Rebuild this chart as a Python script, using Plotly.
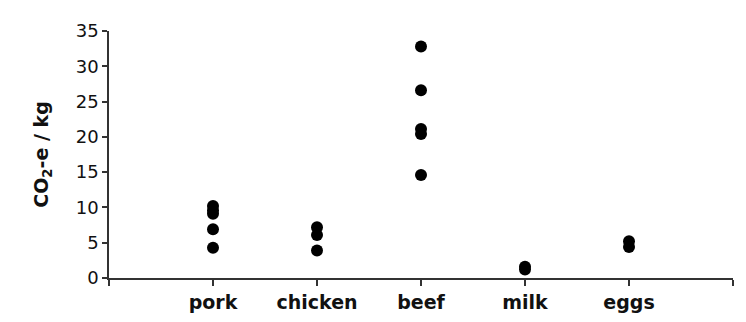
import plotly.graph_objects as go

categories = ["pork", "chicken", "beef", "milk", "eggs"]
pork = [10.2, 9.6, 9.1, 6.9, 4.3]
chicken = [7.2, 6.1, 3.9]
beef = [32.8, 26.6, 21.1, 20.4, 14.6]
milk = [1.6, 1.2]
eggs = [5.2, 4.4]
series = [pork, chicken, beef, milk, eggs]

xs, ys = [], []
for i, vals in enumerate(series):
    for v in vals:
        xs.append(i + 1)
        ys.append(v)

fig = go.Figure(go.Scatter(
    x=xs, y=ys, mode="markers",
    marker=dict(color="black", size=12, line=dict(width=0)),
    showlegend=False,
))

font = "DejaVu Sans, Arial, sans-serif"
fig.update_layout(
    width=746, height=322,
    margin=dict(l=109, r=13, t=31, b=44),
    paper_bgcolor="white", plot_bgcolor="white",
    font=dict(family=font, color="black"),
    xaxis=dict(
        range=[0, 6],
        tickvals=[0, 1, 2, 3, 4, 5, 6],
        ticktext=[""] + ["<b>%s</b>" % c for c in categories] + [""],
        showline=True, linecolor="#333", linewidth=1.5,
        ticks="outside", ticklen=6, tickcolor="#333", tickwidth=1.5,
        tickfont=dict(size=19, family=font, color="#111"),
        showgrid=False, zeroline=False, automargin=False,
    ),
    yaxis=dict(
        range=[0, 35],
        tickvals=[0, 5, 10, 15, 20, 25, 30, 35],
        showline=True, linecolor="#333", linewidth=1.5,
        ticks="outside", ticklen=5, tickcolor="#333", tickwidth=1.5,
        tickfont=dict(size=18, family=font, color="#111"),
        showgrid=False, zeroline=False, automargin=False,
        title=dict(text="<b>CO<sub>2</sub>-e / kg</b>", font=dict(size=19, family=font, color="#111"), standoff=22),
    ),
)

fig.write_html("out.html")
